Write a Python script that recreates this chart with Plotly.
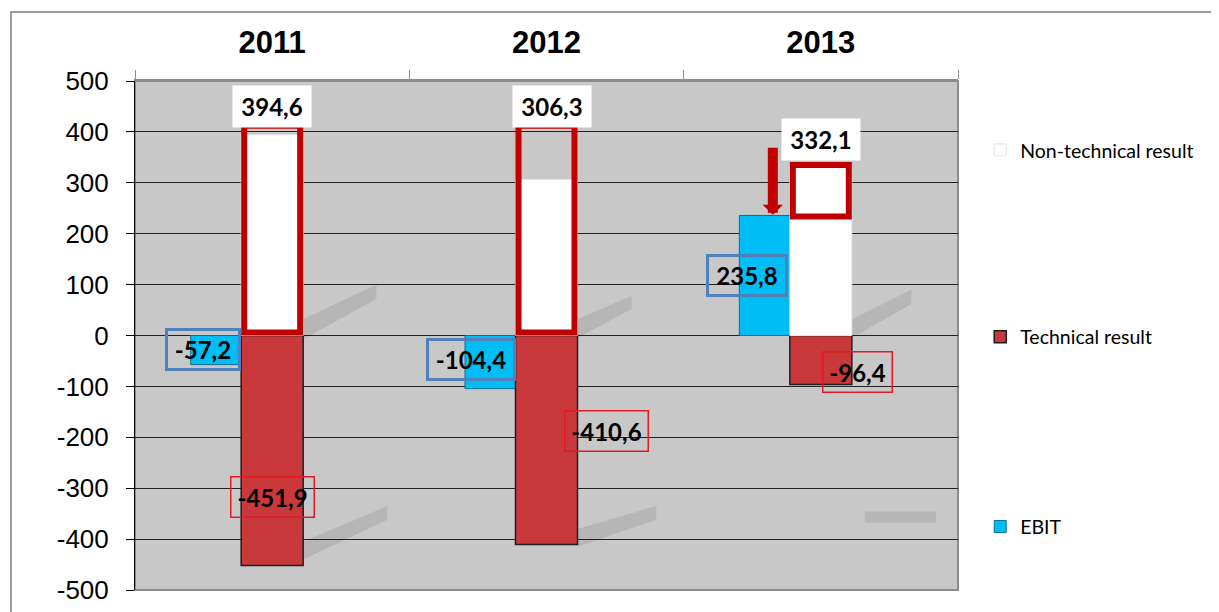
import plotly.graph_objects as go

# ---- data ----
years = ["2011", "2012", "2013"]
non_technical = [394.6, 306.3, 332.1]
technical = [-451.9, -410.6, -96.4]
ebit = [-57.2, -104.4, 235.8]
y_ticks = [500, 400, 300, 200, 100, 0, -100, -200, -300, -400, -500]

def fmt(v):
    return f"{v:.1f}".replace(".", ",")

FONT_AX = "Arial, 'Liberation Sans', sans-serif"
FONT_LB = "Lato, 'Open Sans', sans-serif"
RED_HL = "#C00000"
BLUE_BOX = "#4F81BD"
RED_BOX = "#E31B23"

fig = go.Figure()

fig.add_trace(go.Bar(
    x=years, y=ebit, name="EBIT", width=0.2, offset=-0.297,
    marker=dict(color="#00BDF5", line=dict(color="#0A6F92", width=1)),
    legend="legend3", hoverinfo="skip"))
fig.add_trace(go.Bar(
    x=years, y=technical, name="Technical result", width=0.226, offset=-0.113,
    marker=dict(color="#C9393B", line=dict(color="#1E1E1E", width=1.5)),
    legend="legend2", hoverinfo="skip"))
fig.add_trace(go.Bar(
    x=years, y=non_technical, name="Non-technical result", width=0.226, offset=-0.113,
    marker=dict(color="#FFFFFF", line=dict(color="#E4E4E4", width=1)),
    legend="legend", hoverinfo="skip"))

shapes = []
# soft shadows behind the bars (decorative)
shadow_polys = [
    [(0.113, -8), (0.113, 32), (0.38, 100), (0.38, 72)],
    [(0.113, -440), (0.113, -405), (0.42, -335), (0.42, -362)],
    [(1.113, -5), (1.113, 32), (1.31, 78), (1.31, 52)],
    [(1.113, -415), (1.113, -380), (1.40, -335), (1.40, -362)],
    [(2.113, -5), (2.113, 32), (2.33, 90), (2.33, 62)],
    [(2.16, -368), (2.16, -346), (2.42, -346), (2.42, -368)],
]
for poly in shadow_polys:
    path = "M " + " L ".join(f"{px},{py}" for px, py in poly) + " Z"
    shapes.append(dict(type="path", xref="x", yref="y", path=path,
                       fillcolor="rgba(95,95,95,0.16)", line=dict(width=0),
                       layer="below"))

# red highlight frames around the non-technical bars
hl_bottom = [6, 6, 234]
hl_top = [412, 412, 335]
for i in range(len(years)):
    shapes.append(dict(type="rect", xref="x", yref="y",
                       x0=i - 0.102, x1=i + 0.102, y0=hl_bottom[i], y1=hl_top[i],
                       line=dict(color=RED_HL, width=6), fillcolor="rgba(0,0,0,0)",
                       layer="above"))
# plot frame (gray) and outer page frame
shapes.append(dict(type="rect", xref="paper", yref="paper", x0=0, x1=1, y0=0, y1=1,
                   line=dict(color="#8C8C8C", width=2), layer="below"))
shapes.append(dict(type="path", xref="paper", yref="paper",
                   path="M -0.1507,-0.2 L -0.1507,1.1356 L 1.4,1.1356",
                   line=dict(color="#9A9A9A", width=2), layer="above"))

annotations = []
# label positions (x offset within category, y position)
white_pos = [(0.0, 449), (1.02, 449), (2.0, 386)]
blue_pos = [(-0.252, -28), (0.725, -48), (1.73, 117)]
red_pos = [(0.0, -317), (1.217, -188), (2.135, -72)]
blue_w = [68, 82, 74]
red_w = [80, 80, 66]

for i in range(3):
    annotations.append(dict(x=white_pos[i][0], y=white_pos[i][1], xref="x", yref="y",
                            text=f"<b>{fmt(non_technical[i])}</b>", showarrow=False,
                            font=dict(family=FONT_LB, size=24, color="black"),
                            bgcolor="white", width=76, height=39, borderpad=1))
    annotations.append(dict(x=blue_pos[i][0], y=blue_pos[i][1], xref="x", yref="y",
                            text=f"<b>{fmt(ebit[i])}</b>", showarrow=False,
                            font=dict(family=FONT_LB, size=24, color="black"),
                            bordercolor=BLUE_BOX, borderwidth=3,
                            width=blue_w[i], height=35, borderpad=1))
    annotations.append(dict(x=red_pos[i][0], y=red_pos[i][1], xref="x", yref="y",
                            text=f"<b>{fmt(technical[i])}</b>", showarrow=False,
                            font=dict(family=FONT_LB, size=24, color="black"),
                            bordercolor=RED_BOX, borderwidth=1.5,
                            width=red_w[i], height=37, borderpad=1))

# arrow pointing at the 2013 EBIT bar
annotations.append(dict(x=1.825, y=237, ax=1.825, ay=372, xref="x", yref="y",
                        axref="x", ayref="y", text="", showarrow=True,
                        arrowhead=1, arrowsize=0.34, arrowwidth=10, arrowcolor=RED_HL))

legend_common = dict(x=1.027, xanchor="left", yanchor="middle",
                     font=dict(family=FONT_LB, size=19.5, color="black"),
                     bgcolor="rgba(0,0,0,0)", borderwidth=0)

fig.update_layout(
    width=1211, height=604,
    margin=dict(l=127, r=261, t=73, b=22, autoexpand=False),
    paper_bgcolor="white", plot_bgcolor="#C8C8C8",
    barmode="overlay",
    showlegend=True,
    legend=dict(y=0.864, **legend_common),
    legend2=dict(y=0.497, **legend_common),
    legend3=dict(y=0.124, **legend_common),
    shapes=shapes, annotations=annotations,
    xaxis=dict(type="category", side="top", tickson="boundaries",
               ticks="outside", ticklen=9, tickcolor="#8C8C8C", tickwidth=1,
               showline=True, linecolor="#8C8C8C", linewidth=2,
               showgrid=False, range=[-0.5, 2.5], automargin=False,
               tickfont=dict(family=FONT_AX, size=31, color="black"),
               ticktext=[f"<b>{y}</b>" for y in years], tickvals=years,
               ticklabelstandoff=14),
    yaxis=dict(range=[-500, 500], tickvals=y_ticks,
               ticktext=[str(v) for v in y_ticks],
               ticks="outside", ticklen=8, tickcolor="black",
               showline=True, linecolor="black", linewidth=1,
               showgrid=True, gridcolor="#222222", gridwidth=1,
               zeroline=False, automargin=False,
               tickfont=dict(family=FONT_AX, size=26, color="black"),
               ticklabelstandoff=12),
)

fig.write_html("out.html")
